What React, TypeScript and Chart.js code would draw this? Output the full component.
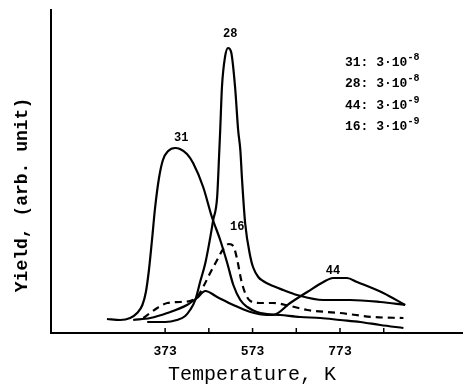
import React, { useEffect, useRef } from "react";
import { Chart, registerables } from "chart.js";

Chart.register(...registerables);

// x ticks (K) and their labels
const tickValues = [373, 473, 573, 673, 773, 873];
const tickLabels = ["373", "", "573", "", "773", ""];

// Mass 31 (solid)
const t31 = [240, 270, 293, 309, 321, 329, 336, 343, 350, 359, 368, 380, 396, 407, 423, 437, 460, 480, 499, 515, 529, 545, 561, 583, 606, 636, 682, 728, 773, 819, 865, 918];
const y31 = [14, 13, 15, 20, 28, 41, 63, 93, 125, 155, 173, 182, 185, 184, 179, 170, 146, 116, 93, 70, 48, 33, 26, 21, 19, 18, 16, 15, 13, 11, 8, 5];

// Mass 28 (solid)
const t28 = [332, 373, 400, 419, 430, 442, 453, 465, 476, 483, 492, 497, 499, 503, 510, 517, 524, 533, 540, 545, 549, 556, 568, 574, 586, 597, 620, 643, 675, 735, 796, 865, 922];
const y28 = [11, 11, 13, 17, 23, 33, 51, 70, 95, 113, 136, 183, 203, 246, 276, 285, 281, 246, 203, 183, 153, 110, 76, 66, 56, 52, 47, 43, 38, 33, 33, 31, 28];

// Mass 16 (dashed)
const t16 = [323, 339, 355, 378, 407, 430, 446, 460, 476, 492, 506, 519, 529, 538, 547, 556, 568, 590, 620, 659, 698, 773, 849, 918];
const y16 = [15, 20, 25, 30, 31, 32, 36, 46, 60, 73, 84, 89, 87, 73, 53, 40, 32, 30, 30, 27, 23, 20, 16, 15];

// Mass 44 (solid)
const t44 = [300, 339, 378, 423, 446, 465, 492, 529, 568, 606, 620, 659, 698, 735, 757, 789, 812, 872, 922];
const y44 = [13, 15, 20, 28, 35, 42, 36, 28, 21, 18, 18, 30, 41, 51, 55, 55, 51, 40, 28];

// peak labels
const peakNames = ["31", "28", "16", "44"];
const peakT = [410, 522, 538, 757];
const peakY = [195, 299, 106, 62];

// sensitivity legend
const legendNames = ["31", "28", "44", "16"];
const legendBase = ["3·10", "3·10", "3·10", "3·10"];
const legendExp = ["-8", "-8", "-9", "-9"];

const MONO = "'Liberation Mono', 'DejaVu Sans Mono', monospace";

function pts(t: number[], y: number[]) {
  return t.map((v, i) => ({ x: v, y: y[i] }));
}

export default function App() {
  const ref = useRef<HTMLCanvasElement | null>(null);

  useEffect(() => {
    if (!ref.current) return;

    const annot = {
      id: "annot",
      afterDraw(chart: any) {
        const ctx = chart.ctx;
        const xs = chart.scales.x;
        const ys = chart.scales.y;
        const area = chart.chartArea;
        ctx.save();
        ctx.fillStyle = "#000";
        ctx.strokeStyle = "#000";
        // tick marks pointing up from the axis
        ctx.lineWidth = 1.5;
        tickValues.forEach((v) => {
          const px = xs.getPixelForValue(v);
          ctx.beginPath();
          ctx.moveTo(px, area.bottom);
          ctx.lineTo(px, area.bottom - 5);
          ctx.stroke();
        });
        // peak labels
        ctx.font = `bold 12px ${MONO}`;
        ctx.textAlign = "center";
        ctx.textBaseline = "middle";
        peakNames.forEach((n, i) => {
          ctx.fillText(n, xs.getPixelForValue(peakT[i]), ys.getPixelForValue(peakY[i]));
        });
        // legend
        const rows = [63, 84, 106, 127];
        ctx.textAlign = "left";
        legendNames.forEach((n, i) => {
          ctx.font = `bold 13px ${MONO}`;
          const s = `${n}: ${legendBase[i]}`;
          ctx.fillText(s, 345, rows[i]);
          const w = ctx.measureText(s).width;
          ctx.font = `bold 10px ${MONO}`;
          ctx.fillText(legendExp[i], 345 + w, rows[i] - 6);
        });
        // axis titles
        ctx.font = `20px ${MONO}`;
        ctx.textAlign = "center";
        ctx.fillText("Temperature, K", 252, 375);
        ctx.translate(22, 195);
        ctx.rotate(-Math.PI / 2);
        ctx.font = `bold 18px ${MONO}`;
        ctx.fillText("Yield, (arb. unit)", 0, 0);
        ctx.restore();
      },
    };

    const line = (label: string, data: any[], dashed: boolean) => ({
      label,
      data,
      borderColor: "#000",
      borderWidth: 2.2,
      borderDash: dashed ? [7, 5] : [],
      pointRadius: 0,
      fill: false,
      cubicInterpolationMode: "monotone" as const,
    });

    const chart = new Chart(ref.current, {
      type: "line",
      data: {
        datasets: [
          line("31", pts(t31, y31), false),
          line("28", pts(t28, y28), false),
          line("16", pts(t16, y16), true),
          line("44", pts(t44, y44), false),
        ],
      },
      options: {
        animation: false,
        responsive: false,
        layout: { padding: { top: 10, right: 1, left: 0, bottom: 0 } },
        plugins: { legend: { display: false }, tooltip: { enabled: false } },
        scales: {
          x: {
            type: "linear",
            min: 112,
            max: 1052,
            afterBuildTicks: (s: any) => {
              s.ticks = tickValues.map((v) => ({ value: v }));
            },
            afterFit: (s: any) => {
              s.height = 51;
            },
            grid: { display: false, drawTicks: false },
            border: { display: true, color: "#000", width: 2 },
            ticks: {
              autoSkip: false,
              maxRotation: 0,
              padding: 11,
              color: "#000",
              font: { family: MONO, size: 13, weight: "bold" },
              callback: (v: any) => {
                const i = tickValues.indexOf(Number(v));
                return i >= 0 ? tickLabels[i] : "";
              },
            },
          },
          y: {
            type: "linear",
            min: 0,
            max: 323,
            afterFit: (s: any) => {
              s.width = 51;
            },
            grid: { display: false, drawTicks: false },
            border: { display: true, color: "#000", width: 2 },
            ticks: { display: false },
          },
        },
      },
      plugins: [annot],
    });

    return () => chart.destroy();
  }, []);

  return (
    <div style={{ position: "fixed", left: 0, top: 0, width: 463, height: 384, background: "#fff" }}>
      <canvas ref={ref} width={463} height={384} style={{ display: "block" }} />
    </div>
  );
}
